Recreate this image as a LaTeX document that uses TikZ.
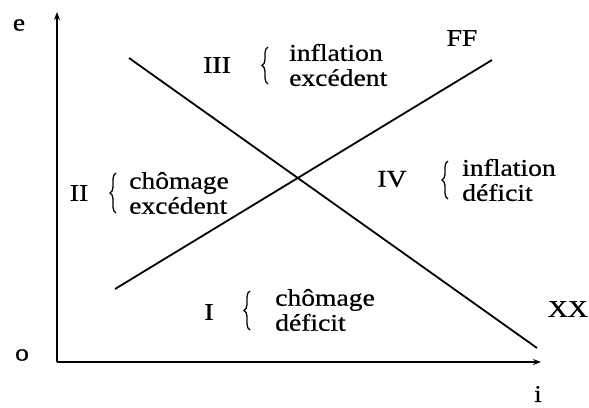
\documentclass[tikz,border=0pt]{standalone}
\usepackage{fontspec}
\setmainfont{Liberation Serif}[FakeStretch=1.15,FakeBold=0.6]
\usetikzlibrary{arrows.meta,decorations.pathreplacing}
\begin{document}
\begin{tikzpicture}[x=1pt,y=-1pt,
  lbl/.style={font=\fontsize{24}{25}\selectfont, inner sep=0pt},
  txt/.style={lbl, align=left, anchor=west},
  curve/.style={line width=1.8pt},
  axis/.style={line width=1.9pt,-{Stealth[length=8pt,width=6pt]}},
  brc/.style={decorate, decoration={brace,amplitude=6pt}, line width=1.3pt}]
\useasboundingbox (0,0) rectangle (589,407);
% axes
\coordinate (O) at (57,362);
\coordinate (Ytop) at (57,12);
\coordinate (Xend) at (541,362);
\draw[axis] (O) -- (Ytop);
\draw[axis] (O) -- (Xend);
\node[lbl] (e) at (19,25) {e};
\node[lbl] (o) at (22,355) {o};
\node[lbl] (i) at (538,394) {i};
% curves
\coordinate (XXa) at (129,58);
\coordinate (XXb) at (537,348);
\coordinate (FFa) at (115,289);
\coordinate (FFb) at (492,60);
\draw[curve] (XXa) -- (XXb);
\draw[curve] (FFa) -- (FFb);
\node[lbl] (FF) at (462,38) {FF};
\node[lbl,anchor=east] (XX) at (588,309) {XX};
% zone III
\node[lbl] (III) at (217,65) {III};
\coordinate (b3a) at (268,84); \coordinate (b3b) at (268,47);
\draw[brc] (b3a) -- (b3b);
\node[txt] (t3) at (289,65) {inflation\\excédent};
% zone II
\node[lbl] (II) at (79,193) {II};
\coordinate (b2a) at (116,213); \coordinate (b2b) at (116,173);
\draw[brc] (b2a) -- (b2b);
\node[txt] (t2) at (129,193) {chômage\\excédent};
% zone IV
\node[lbl] (IV) at (392,179) {IV};
\coordinate (b4a) at (448,199); \coordinate (b4b) at (448,161);
\draw[brc] (b4a) -- (b4b);
\node[txt] (t4) at (462,180) {inflation\\déficit};
% zone I
\node[lbl] (I) at (209,312) {I};
\coordinate (b1a) at (250,330); \coordinate (b1b) at (250,291);
\draw[brc] (b1a) -- (b1b);
\node[txt] (t1) at (275,310) {chômage\\déficit};
\end{tikzpicture}
\end{document}
